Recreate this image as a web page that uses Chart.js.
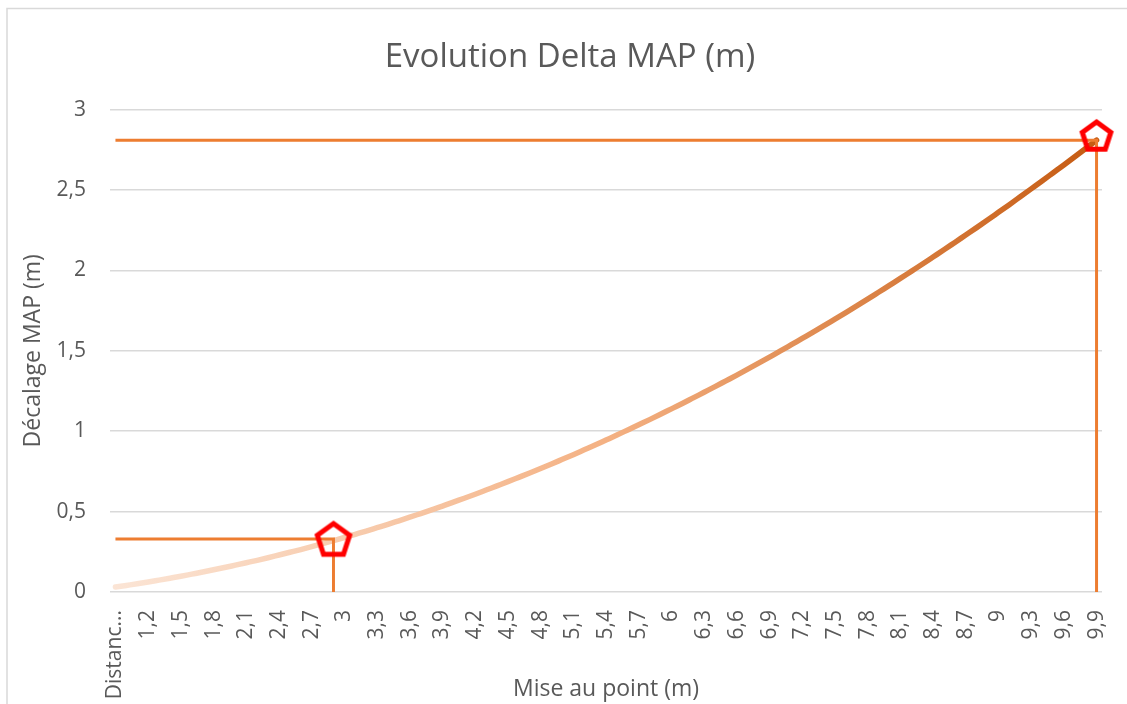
<!DOCTYPE html>
<html lang="fr">
<head>
<meta charset="utf-8">
<title>Evolution Delta MAP (m)</title>
<script src="https://cdn.jsdelivr.net/npm/chart.js@4/dist/chart.umd.min.js"></script>
<style>
    html, body { margin: 0; padding: 0; background: #fff; overflow: hidden; }
    #wrap { width: 1127px; height: 704px; position: relative; }
</style>
</head>
<body>
<div id="wrap"><canvas id="graphique"></canvas></div>
<script>
// =========================================================
// 1. DONNEES
// =========================================================
// Mise au point (m) - une catégorie tous les 0,1 m, libellé affiché 1 sur 3
const miseAuPoint = [
    'Distanc...', '1', '1,1', '1,2', '1,3', '1,4', '1,5', '1,6', '1,7', '1,8',
    '1,9', '2', '2,1', '2,2', '2,3', '2,4', '2,5', '2,6', '2,7', '2,8',
    '2,9', '3', '3,1', '3,2', '3,3', '3,4', '3,5', '3,6', '3,7', '3,8',
    '3,9', '4', '4,1', '4,2', '4,3', '4,4', '4,5', '4,6', '4,7', '4,8',
    '4,9', '5', '5,1', '5,2', '5,3', '5,4', '5,5', '5,6', '5,7', '5,8',
    '5,9', '6', '6,1', '6,2', '6,3', '6,4', '6,5', '6,6', '6,7', '6,8',
    '6,9', '7', '7,1', '7,2', '7,3', '7,4', '7,5', '7,6', '7,7', '7,8',
    '7,9', '8', '8,1', '8,2', '8,3', '8,4', '8,5', '8,6', '8,7', '8,8',
    '8,9', '9', '9,1', '9,2', '9,3', '9,4', '9,5', '9,6', '9,7', '9,8',
    '9,9'
];

// Décalage MAP (m)
const decalageMap = [
    0.031, 0.041, 0.051, 0.062, 0.074, 0.086, 0.098, 0.111, 0.124, 0.138,
    0.152, 0.167, 0.182, 0.197, 0.213, 0.230, 0.247, 0.264, 0.282, 0.301,
    0.320, 0.339, 0.359, 0.379, 0.400, 0.421, 0.443, 0.465, 0.488, 0.511,
    0.534, 0.559, 0.583, 0.608, 0.634, 0.660, 0.686, 0.713, 0.740, 0.768,
    0.796, 0.825, 0.854, 0.884, 0.914, 0.945, 0.976, 1.008, 1.040, 1.072,
    1.105, 1.139, 1.172, 1.207, 1.242, 1.277, 1.313, 1.349, 1.386, 1.423,
    1.461, 1.499, 1.538, 1.577, 1.616, 1.656, 1.697, 1.738, 1.779, 1.821,
    1.864, 1.907, 1.950, 1.994, 2.038, 2.083, 2.128, 2.174, 2.220, 2.266,
    2.313, 2.361, 2.409, 2.458, 2.507, 2.556, 2.606, 2.656, 2.707, 2.758,
    2.810
];

// Lignes de repère (coin en L)
const repereBasX = '2,9';
const repereBasY = 0.33;
const repereHautX = '9,9';
const repereHautY = 2.81;

// Marqueurs pentagone
const marqueursX = ['2,9', '9,9'];
const marqueursY = [0.32, 2.83];

const yMin = 0;
const yMax = 3;
const yPas = 0.5;

// =========================================================
// 2. STYLES
// =========================================================
const POLICE = "'Open Sans', 'Noto Sans', sans-serif";
const GRIS_TEXTE = '#595959';
const GRIS_GRILLE = '#D9D9D9';
const ORANGE = '#ED7D31';

// Pentagone rouge dessiné sur un petit canvas, utilisé comme pointStyle
function pentagone(rayon) {
    const taille = Math.ceil(rayon * 2 + 12);
    const c = document.createElement('canvas');
    c.width = taille;
    c.height = taille;
    const g = c.getContext('2d');
    const cx = taille / 2, cy = taille / 2;
    g.beginPath();
    for (let k = 0; k < 5; k++) {
        const a = -Math.PI / 2 + k * 2 * Math.PI / 5;
        const px = cx + rayon * Math.cos(a);
        const py = cy + rayon * Math.sin(a);
        if (k === 0) g.moveTo(px, py); else g.lineTo(px, py);
    }
    g.closePath();
    g.lineWidth = 5;
    g.lineJoin = 'miter';
    g.strokeStyle = '#FF0000';
    g.stroke();
    return c;
}

// Dégradé de la courbe : pêche clair -> orange foncé
function degrade(context) {
    const chart = context.chart;
    const zone = chart.chartArea;
    if (!zone) return '#F4B183';
    const grad = chart.ctx.createLinearGradient(zone.left, 0, zone.right, 0);
    grad.addColorStop(0, '#FBE5D6');
    grad.addColorStop(0.5, '#F4B183');
    grad.addColorStop(1, '#C55A11');
    return grad;
}

// Cadre gris clair autour du graphique
const cadrePlugin = {
    id: 'cadre',
    beforeDraw(chart) {
        const { ctx } = chart;
        ctx.save();
        ctx.fillStyle = '#FFFFFF';
        ctx.fillRect(0, 0, chart.width, chart.height);
        ctx.strokeStyle = GRIS_GRILLE;
        ctx.lineWidth = 1.5;
        ctx.strokeRect(7, 8.5, chart.width + 20, chart.height + 20);
        ctx.restore();
    }
};

// =========================================================
// 3. GRAPHIQUE
// =========================================================
new Chart(document.getElementById('graphique'), {
    type: 'line',
    data: {
        labels: miseAuPoint,
        datasets: [
            {
                label: 'Marqueurs',
                data: marqueursX.map((x, i) => ({ x: x, y: marqueursY[i] })),
                showLine: false,
                pointStyle: [pentagone(17), pentagone(15)],
                pointRadius: 17,
                order: 0
            },
            {
                label: 'Repère bas',
                data: [
                    { x: miseAuPoint[0], y: repereBasY },
                    { x: repereBasX, y: repereBasY },
                    { x: repereBasX, y: yMin }
                ],
                borderColor: ORANGE,
                borderWidth: 3,
                pointRadius: 0,
                tension: 0,
                order: 1
            },
            {
                label: 'Repère haut',
                data: [
                    { x: miseAuPoint[0], y: repereHautY },
                    { x: repereHautX, y: repereHautY },
                    { x: repereHautX, y: yMin }
                ],
                borderColor: ORANGE,
                borderWidth: 3,
                pointRadius: 0,
                tension: 0,
                order: 1
            },
            {
                label: 'Décalage MAP (m)',
                data: decalageMap,
                borderColor: degrade,
                borderWidth: 5.5,
                borderCapStyle: 'round',
                pointRadius: 0,
                cubicInterpolationMode: 'monotone',
                order: 2
            }
        ]
    },
    options: {
        responsive: true,
        maintainAspectRatio: false,
        animation: false,
        layout: { padding: { left: 13, right: 0, top: 0, bottom: 0 } },
        plugins: {
            legend: { display: false },
            tooltip: { enabled: false },
            title: {
                display: true,
                text: 'Evolution Delta MAP (m)',
                color: GRIS_TEXTE,
                font: { family: POLICE, size: 33, weight: 'normal' },
                padding: { top: 38, bottom: 32 }
            }
        },
        scales: {
            x: {
                offset: true,
                grid: { display: false, drawTicks: false },
                border: { display: false },
                ticks: {
                    autoSkip: false,
                    minRotation: 90,
                    maxRotation: 90,
                    padding: 18,
                    color: GRIS_TEXTE,
                    font: { family: POLICE, size: 21 },
                    callback: function (val, index) {
                        return index % 3 === 0 ? miseAuPoint[index] : '';
                    }
                },
                title: {
                    display: true,
                    text: 'Mise au point (m)',
                    color: GRIS_TEXTE,
                    font: { family: POLICE, size: 23 },
                    padding: { top: 0, bottom: 1 }
                },
                afterFit(scale) {
                    scale.height = 112;
                    scale.paddingLeft = 0;
                    scale.paddingRight = 25;
                }
            },
            y: {
                min: yMin,
                max: yMax,
                grid: { color: GRIS_GRILLE, lineWidth: 1.5, drawTicks: false },
                border: { display: false },
                ticks: {
                    stepSize: yPas,
                    padding: 24,
                    color: GRIS_TEXTE,
                    font: { family: POLICE, size: 21 },
                    callback: v => String(v).replace('.', ',')
                },
                title: {
                    display: true,
                    text: 'Décalage MAP (m)',
                    color: GRIS_TEXTE,
                    font: { family: POLICE, size: 23 },
                    padding: { top: 7, bottom: 0 }
                },
                afterFit(scale) {
                    scale.width = 97;
                    scale.paddingTop = 0;
                    scale.paddingBottom = 0;
                }
            }
        }
    },
    plugins: [cadrePlugin]
});
</script>
</body>
</html>
